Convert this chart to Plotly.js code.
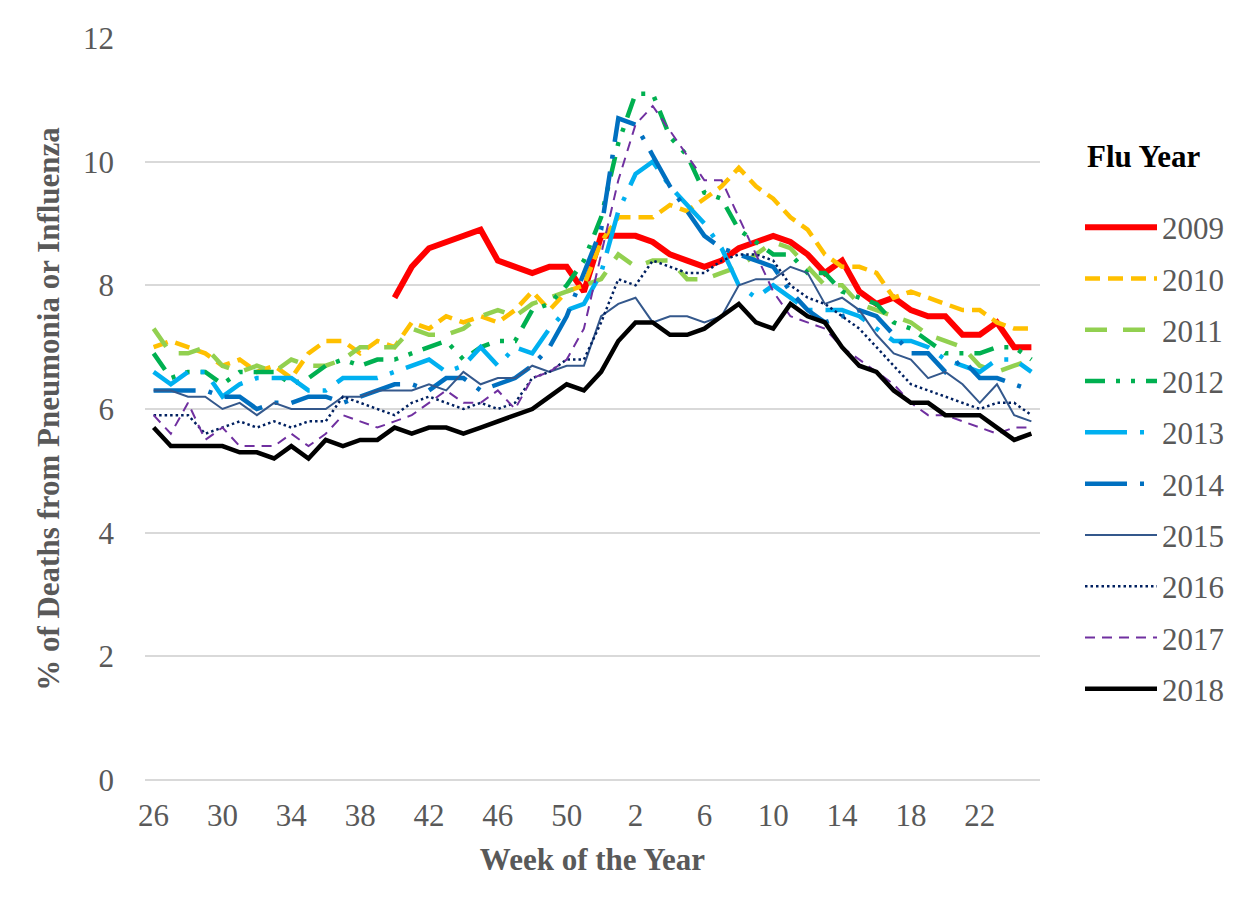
<!DOCTYPE html>
<html>
<head>
<meta charset="utf-8">
<script src="https://cdn.plot.ly/plotly-3.0.1.min.js"></script>
<style>
  html, body { margin: 0; padding: 0; background: #ffffff; }
  #chart { width: 1253px; height: 908px; }
</style>
</head>
<body>
<div id="chart"></div>
<script>
// Week of the flu year (week 26 through week 25 of the next calendar year)
const weeks = [26,27,28,29,30,31,32,33,34,35,36,37,38,39,40,41,42,43,44,45,46,47,48,49,50,51,52,
               1,2,3,4,5,6,7,8,9,10,11,12,13,14,15,16,17,18,19,20,21,22,23,24,25];

// Tick labels shown every fourth week
const tickWeeks = [26,30,34,38,42,46,50,2,6,10,14,18,22];

const seriesNames = ["2009","2010","2011","2012","2013","2014","2015","2016","2017","2018"];

// % of deaths from pneumonia or influenza
const y2009 = [null,null,null,null,null,null,null,null,null,null,null,null,null,
  null,7.8,8.3,8.6,8.7,8.8,8.9,8.4,8.3,8.2,8.3,8.3,7.9,
  8.8,8.8,8.8,8.7,8.5,8.4,8.3,8.4,8.6,8.7,8.8,8.7,8.5,
  8.2,8.4,7.9,7.7,7.8,7.6,7.5,7.5,7.2,7.2,7.4,7.0,7.0];
const y2010 = [7.0,7.1,7.0,6.9,6.7,6.8,6.6,6.7,6.5,6.9,7.1,7.1,6.9,
  7.1,7.0,7.4,7.3,7.5,7.4,7.5,7.4,7.6,7.9,7.6,7.9,8.0,
  8.7,9.1,9.1,9.1,9.3,9.2,9.4,9.6,9.9,9.6,9.4,9.1,8.9,
  8.5,8.3,8.3,8.2,7.8,7.9,7.8,7.7,7.6,7.6,7.4,7.3,7.3];
const y2011 = [7.3,6.9,6.9,7.0,6.7,6.6,6.7,6.6,6.8,6.7,6.7,6.8,7.0,
  7.0,7.0,7.3,7.2,7.2,7.3,7.5,7.6,7.5,7.7,7.8,7.9,8.0,
  8.1,8.5,8.3,8.4,8.4,8.1,8.1,8.2,8.3,8.5,8.7,8.6,8.3,
  8.0,8.0,7.7,7.6,7.5,7.4,7.2,7.1,7.0,6.7,6.6,6.7,6.8];
const y2012 = [6.9,6.5,6.6,6.6,6.4,6.6,6.6,6.6,6.4,6.5,6.7,6.8,6.7,
  6.8,6.8,6.9,7.0,7.1,6.8,7.0,7.1,7.1,7.6,7.7,8.0,8.4,
  9.1,10.3,11.1,11.1,10.4,10.1,9.5,9.4,8.9,8.7,8.5,8.5,8.2,
  8.2,7.9,7.8,7.7,7.4,7.3,7.1,6.9,6.9,6.9,7.0,7.0,6.8];
const y2013 = [6.6,6.4,6.6,6.6,6.2,6.4,6.5,6.5,6.5,6.3,6.3,6.5,6.5,
  6.5,6.6,6.7,6.8,6.6,6.7,7.0,6.7,7.0,6.9,7.3,7.6,7.7,
  8.2,9.2,9.8,10.0,9.6,9.3,9.0,8.6,8.0,7.8,8.0,7.8,7.6,
  7.6,7.6,7.5,7.3,7.1,7.1,7.0,6.8,6.7,6.6,6.8,6.8,6.6];
const y2014 = [6.3,6.3,6.3,6.3,6.2,6.2,6.0,6.1,6.1,6.2,6.2,6.1,6.2,
  6.3,6.4,6.4,6.3,6.5,6.5,6.3,6.4,6.5,6.7,7.0,7.5,8.2,
  8.9,10.7,10.6,10.1,9.6,9.2,8.8,8.6,8.5,8.4,8.3,7.9,7.6,
  7.4,7.5,7.6,7.5,7.2,6.9,6.9,6.6,6.8,6.5,6.5,6.4,6.3];
const y2015 = [6.3,6.3,6.2,6.2,6.0,6.1,5.9,6.1,6.0,6.0,6.0,6.2,6.2,
  6.3,6.3,6.3,6.4,6.3,6.6,6.4,6.5,6.5,6.7,6.6,6.7,6.7,
  7.5,7.7,7.8,7.4,7.5,7.5,7.4,7.5,8.0,8.1,8.1,8.3,8.2,
  7.7,7.8,7.6,7.2,6.9,6.8,6.5,6.6,6.4,6.1,6.4,5.9,5.8];
const y2016 = [5.9,5.9,5.9,5.6,5.7,5.8,5.7,5.8,5.7,5.8,5.8,6.2,6.1,
  6.0,5.9,6.1,6.2,6.1,6.0,6.1,6.0,6.1,6.5,6.6,6.8,6.8,
  7.4,8.1,8.0,8.4,8.3,8.2,8.2,8.4,8.5,8.5,8.4,8.0,7.8,
  7.7,7.5,7.3,7.0,6.7,6.4,6.3,6.2,6.1,6.0,6.1,6.1,5.9];
const y2017 = [5.9,5.6,6.1,5.5,5.7,5.4,5.4,5.4,5.6,5.4,5.6,5.9,5.8,
  5.7,5.8,5.9,6.1,6.3,6.1,6.1,6.3,6.0,6.5,6.6,6.8,7.3,
  8.5,9.7,10.6,10.9,10.5,10.1,9.7,9.7,9.1,8.5,7.9,7.5,7.4,
  7.3,7.0,6.8,6.6,6.4,6.1,5.9,5.9,5.8,5.7,5.6,5.7,5.7];
const y2018 = [5.7,5.4,5.4,5.4,5.4,5.3,5.3,5.2,5.4,5.2,5.5,5.4,5.5,
  5.5,5.7,5.6,5.7,5.7,5.6,5.7,5.8,5.9,6.0,6.2,6.4,6.3,
  6.6,7.1,7.4,7.4,7.2,7.2,7.3,7.5,7.7,7.4,7.3,7.7,7.5,
  7.4,7.0,6.7,6.6,6.3,6.1,6.1,5.9,5.9,5.9,5.7,5.5,5.6];

const seriesValues = [y2009,y2010,y2011,y2012,y2013,y2014,y2015,y2016,y2017,y2018];

// Line styles (kept apart from the data)
const lineStyles = [
  {color: "#FF0000", width: 6,   dash: "solid"},
  {color: "#FFC000", width: 4.5, dash: "15px,8px"},
  {color: "#92D050", width: 4.5, dash: "22px,16px"},
  {color: "#00B050", width: 4.5, dash: "20px,11px,4px,11px,4px,11px"},
  {color: "#00B0F0", width: 4.5, dash: "42px,13px,4px,13px"},
  {color: "#0070C0", width: 4.5, dash: "42px,13px,4px,13px"},
  {color: "#34588C", width: 2,   dash: "solid"},
  {color: "#002060", width: 2.5, dash: "2.5px,3px"},
  {color: "#7030A0", width: 2,   dash: "10px,7px"},
  {color: "#000000", width: 4.5, dash: "solid"}
];

const xCats = weeks.map(String);
const FONT = "Liberation Serif, Times New Roman, serif";

const traces = seriesNames.map((name, k) => ({
  type: "scatter",
  mode: "lines",
  name: name,
  legendgroup: "g" + name,
  x: xCats,
  y: seriesValues[k],
  line: {color: lineStyles[k].color, width: lineStyles[k].width, dash: lineStyles[k].dash},
  connectgaps: false,
  hoverinfo: "x+y+name"
}));

const layout = {
  width: 1253,
  height: 908,
  paper_bgcolor: "#ffffff",
  plot_bgcolor: "#ffffff",
  margin: {l: 145, r: 213, t: 38, b: 128, pad: 0},
  font: {family: FONT, size: 31, color: "#595959"},
  showlegend: true,
  legend: {
    x: (1080 - 145) / 895,
    xanchor: "left",
    y: 0.781,
    yanchor: "top",
    itemwidth: 72,
    tracegroupgap: 8,
    font: {family: FONT, size: 31, color: "#595959"},
    bgcolor: "rgba(0,0,0,0)",
    borderwidth: 0
  },
  annotations: [{
    text: "<b>Flu Year</b>",
    xref: "paper", yref: "paper",
    x: (1085 - 145) / 895, xanchor: "left",
    y: (780.5 - 157) / 742, yanchor: "middle",
    showarrow: false,
    font: {family: FONT, size: 31, color: "#000000"}
  }],
  xaxis: {
    type: "category",
    categoryorder: "array",
    categoryarray: xCats,
    range: [-0.5, xCats.length - 0.5],
    tickmode: "array",
    tickvals: tickWeeks.map(String),
    ticktext: tickWeeks.map(String),
    ticks: "",
    ticklabelstandoff: 14,
    tickfont: {family: FONT, size: 31, color: "#595959"},
    showgrid: false,
    zeroline: false,
    showline: false,
    title: {text: "<b>Week of the Year</b>", font: {family: FONT, size: 31, color: "#595959"}, standoff: 16},
    automargin: false
  },
  yaxis: {
    range: [0, 12],
    tickmode: "linear",
    tick0: 0,
    dtick: 2,
    ticks: "",
    ticklabelstandoff: 30,
    tickfont: {family: FONT, size: 31, color: "#595959"},
    showgrid: true,
    gridcolor: "#D9D9D9",
    gridwidth: 1.5,
    zeroline: true,
    zerolinecolor: "#D9D9D9",
    zerolinewidth: 1.5,
    showline: false,
    title: {text: "<b>% of Deaths from Pneumonia or Influenza</b>", font: {family: FONT, size: 31, color: "#595959"}, standoff: 14},
    automargin: false
  }
};

Plotly.newPlot("chart", traces, layout, {displayModeBar: false, staticPlot: false});
</script>
</body>
</html>
